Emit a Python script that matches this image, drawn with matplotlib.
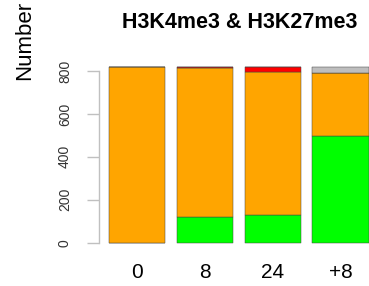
import matplotlib
matplotlib.use("Agg")
import matplotlib.pyplot as plt
import numpy as np

plt.rcParams['font.family'] = ['Liberation Sans', 'DejaVu Sans']

groups = ['0', '8', '24', '+8']
green = [0, 121, 129, 497]
orange = [820, 694, 665, 292]
red = [0, 5, 26, 4]
grey = [0, 0, 0, 27]

W, H = 369, 286
fig = plt.figure(figsize=(W / 100, H / 100), dpi=100)
# axes placed in pixel terms: left 99, right 369, top 60, bottom 250
ax = fig.add_axes([99 / W, (H - 250) / H, 270 / W, 190 / H])

x = 0.7 + 1.2 * np.arange(len(groups))
bottom = np.zeros(len(groups))
for vals, col in [(green, '#00ff00'), (orange, '#ffa500'), (red, '#ff0000'), (grey, '#bebebe')]:
    ax.bar(x, vals, width=1.0, bottom=bottom, color=col,
           edgecolor='#444444', linewidth=0.35)
    bottom += np.array(vals)

ax.set_xlim(0.023, 4.802)
ax.set_ylim(-34.0, 851.3)

for s in ['top', 'right', 'bottom']:
    ax.spines[s].set_visible(False)
ax.spines['left'].set_bounds(0, 800)
ax.spines['left'].set_color('#c0c0c0')
ax.spines['left'].set_linewidth(1)

ax.set_yticks([0, 200, 400, 600, 800])
ax.tick_params(axis='y', length=8.5, width=1, color='#c0c0c0', pad=11,
               labelsize=10, labelcolor='#333333')
for lab in ax.get_yticklabels():
    lab.set_rotation(90)
    lab.set_va('center')

ax.set_xticks(x)
ax.set_xticklabels(groups)
ax.tick_params(axis='x', length=0, pad=9, labelsize=15, labelcolor='black')

fig.text(240 / W, 1 - 28 / H, 'H3K4me3 & H3K27me3', ha='center', va='baseline',
         fontsize=15.5, fontweight='bold')
fig.text(35 / W, 1 - 40 / H, 'Number', rotation=90, ha='right', va='center',
         fontsize=16)

fig.savefig('out.png', dpi=100)
